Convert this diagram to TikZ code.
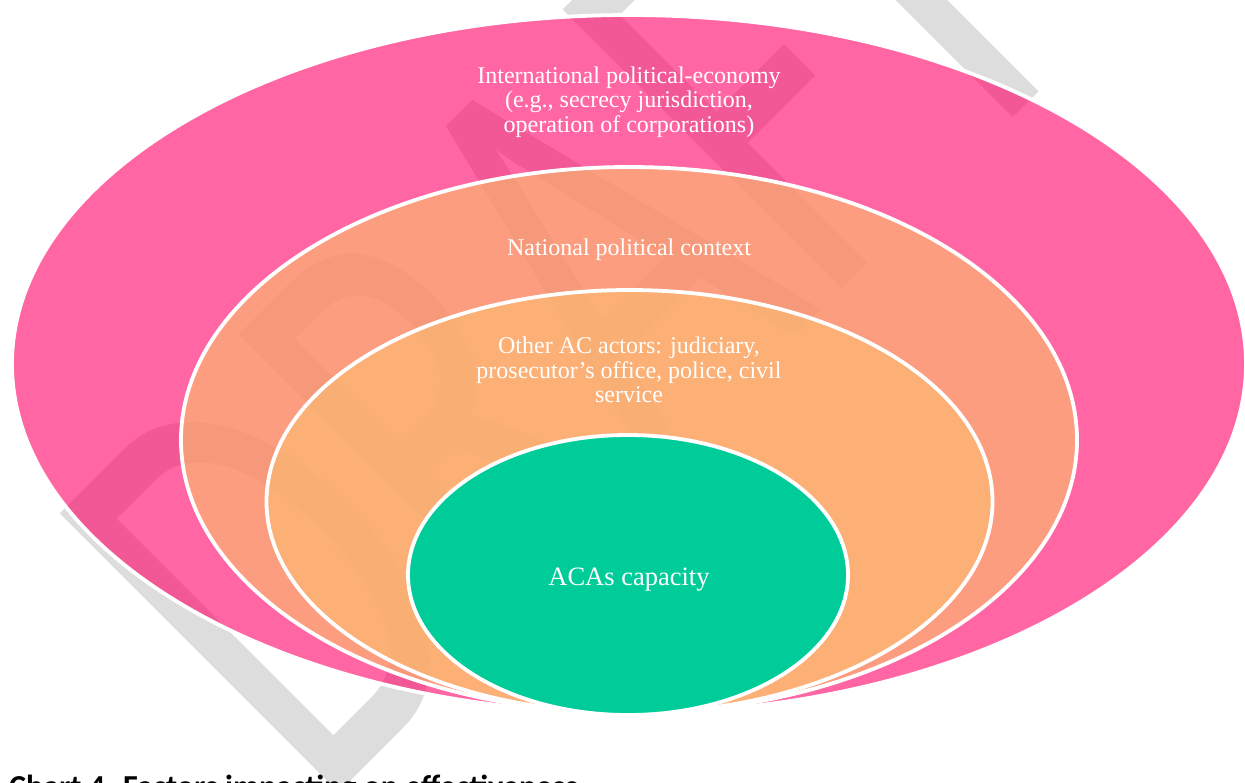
\documentclass[tikz,border=0pt]{standalone}
\usepackage{fontspec}
\usepackage{graphicx}
\setmainfont{Liberation Serif}
\newfontfamily\wmfont{Carlito}
\newfontfamily\capfont{Carlito}

\definecolor{wmgray}{HTML}{DDDDDD}
\definecolor{ringpink}{HTML}{FF0066}
\definecolor{ringsalmon}{HTML}{FAC369}
\definecolor{ringorange}{HTML}{FCBE70}
\definecolor{ringgreen}{HTML}{00CC99}

\begin{document}
\begin{tikzpicture}[x=1pt, y=-1pt,
  ring/.style={draw=white, line width=3.8pt, fill opacity=0.6},
  ringtext/.style={text=white, align=center, inner sep=0pt,
    font=\fontsize{24}{24.5}\selectfont},
  wmark/.style={text=wmgray, inner sep=0pt, anchor=base west, rotate=45,
    font=\wmfont\fontsize{410}{410}\selectfont}]
\useasboundingbox (0,0) rectangle (1245,782);
\clip (0,0) rectangle (1245,782);
\fill[white] (0,0) rectangle (1245,782);

% watermark behind the rings
\node[wmark] (draft) at (319,812.5) {\scalebox{1}[1.5]{DRAFT}};

% nested rings, all touching at the bottom
\draw[ring, fill=ringpink]   (629,364)   ellipse [x radius=617, y radius=349];
\draw[ring, fill=ringsalmon] (629,440)   ellipse [x radius=448, y radius=273];
\draw[ring, fill=ringorange] (629.5,501.5) ellipse [x radius=363, y radius=211.5];
\draw[draw=white, line width=3.8pt, fill=ringgreen] (628,575) ellipse [x radius=220, y radius=140];

% ring labels
\node[ringtext] (intl) at (629,102)
  {International political-economy\\(e.g., secrecy jurisdiction,\\operation of corporations)};
\node[ringtext] (natl) at (629,250) {National political context};
\node[ringtext] (actors) at (629,370)
  {Other AC actors: judiciary,\\prosecutor’s office, police, civil\\service};
\node[ringtext, font=\fontsize{26.5}{28}\selectfont] (acas) at (629,580) {ACAs capacity};

% caption
\node[anchor=base west, inner sep=0pt, font=\capfont\bfseries\fontsize{32}{34}\selectfont]
  (caption) at (9,797) {Chart 4.\hspace{0.3em}Factors impacting on effectiveness};
\end{tikzpicture}
\end{document}
